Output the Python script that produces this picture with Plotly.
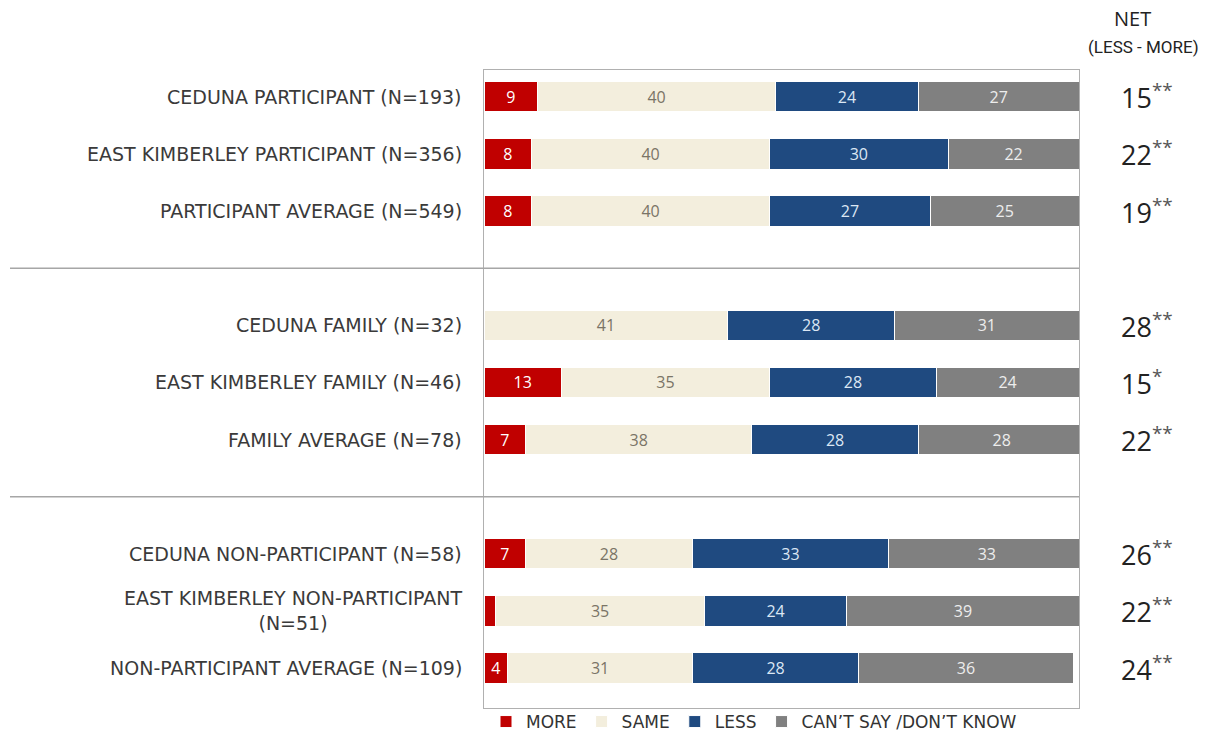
import plotly.graph_objects as go

# ---- data ----
categories = [
    "CEDUNA PARTICIPANT (N=193)",
    "EAST KIMBERLEY PARTICIPANT (N=356)",
    "PARTICIPANT AVERAGE (N=549)",
    "CEDUNA FAMILY (N=32)",
    "EAST KIMBERLEY FAMILY (N=46)",
    "FAMILY AVERAGE (N=78)",
    "CEDUNA NON-PARTICIPANT (N=58)",
    "EAST KIMBERLEY NON-PARTICIPANT<br>(N=51)",
    "NON-PARTICIPANT AVERAGE (N=109)",
]
more = [9, 8, 8, 0, 13, 7, 7, 2, 4]
same = [40, 40, 40, 41, 35, 38, 28, 35, 31]
less = [24, 30, 27, 28, 28, 28, 33, 24, 28]
cant_say = [27, 22, 25, 31, 24, 28, 33, 39, 36]
net = [15, 22, 19, 28, 15, 22, 26, 22, 24]
net_sig = ["**", "**", "**", "**", "*", "**", "**", "**", "**"]
series_names = ["MORE", "SAME", "LESS", "CAN\u2019T SAY /DON\u2019T KNOW"]

# ---- layout helpers ----
group_size = 3
ypos = [i + i // group_size for i in range(len(categories))]

LEFT, RIGHT, TOP, BOTTOM = 484, 130, 70, 26
W, H = 1209, 734
plot_w = W - LEFT - RIGHT
plot_h = H - TOP - BOTTOM
FONT = "Open Sans"
LABEL_FONT = "DejaVu Sans"

colors = ["#C00000", "#F3EEDD", "#1F4A80", "#808080"]
text_colors = ["#FFFFFF", "#7A7466", "#DCE7F4", "#EDEDED"]

fig = go.Figure()
for name, vals, col, tcol in zip(series_names, [more, same, less, cant_say], colors, text_colors):
    fig.add_trace(go.Bar(
        y=ypos, x=vals, name=name, orientation="h",
        marker=dict(color=col, line=dict(color="white", width=1)),
        text=[str(v) if v >= 3 else "" for v in vals],
        textposition="inside", insidetextanchor="middle",
        textfont=dict(color=tcol, size=16, family=FONT),
        width=0.53, hoverinfo="x+name",
    ))

annotations = []
for cat, y in zip(categories, ypos):
    annotations.append(dict(
        x=-20 / plot_w, xref="paper", y=y, yref="y", text=cat,
        xanchor="right", yanchor="middle", align="center", showarrow=False,
        font=dict(family=LABEL_FONT, size=19, color="#3A3A3A"),
    ))
for n, s, y in zip(net, net_sig, ypos):
    annotations.append(dict(
        x=(1119 - LEFT) / plot_w, xref="paper", y=y, yref="y",
        text=f"{n}<sup><span style='color:#555555'>{s}</span></sup>", xanchor="left",
        yanchor="middle", showarrow=False,
        font=dict(family=FONT, size=27, color="#222222"),
    ))
annotations.append(dict(
    x=(1132 - LEFT) / plot_w, xref="paper", y=(H - 18 - BOTTOM) / plot_h, yref="paper",
    text="NET", xanchor="center", yanchor="middle", showarrow=False,
    font=dict(family=FONT, size=20, color="#222222"),
))
annotations.append(dict(
    x=(1143 - LEFT) / plot_w, xref="paper", y=(H - 47 - BOTTOM) / plot_h, yref="paper",
    text="(LESS - MORE)", xanchor="center", yanchor="middle", showarrow=False,
    font=dict(family="Liberation Sans Narrow, Roboto", size=17, color="#222222"),
))

shapes = []
for g in range(1, len(categories) // group_size):
    yline = g * (group_size + 1) - 1
    shapes.append(dict(
        type="line", xref="paper", yref="y",
        x0=(10 - LEFT) / plot_w, x1=1, y0=yline, y1=yline,
        line=dict(color="#A6A6A6", width=1.5),
    ))

fig.update_layout(
    width=W, height=H,
    margin=dict(l=LEFT, r=RIGHT, t=TOP, b=BOTTOM, autoexpand=False),
    barmode="stack",
    paper_bgcolor="white", plot_bgcolor="white",
    xaxis=dict(range=[0, 100], showgrid=False, zeroline=False, showticklabels=False,
               showline=True, mirror=True, linecolor="#B0B0B0", linewidth=1, ticks=""),
    yaxis=dict(range=[10.7, -0.47], showgrid=False, zeroline=False, showticklabels=False,
               showline=True, mirror=True, linecolor="#B0B0B0", linewidth=1, ticks=""),
    legend=dict(orientation="h", x=(486 - LEFT) / plot_w, xanchor="left",
                y=-14 / plot_h, yanchor="middle",
                font=dict(family=LABEL_FONT, size=17, color="#333333"), itemwidth=30,
                traceorder="normal", bgcolor="rgba(0,0,0,0)"),
    annotations=annotations, shapes=shapes, showlegend=True,
)

fig.write_html("out.html")
